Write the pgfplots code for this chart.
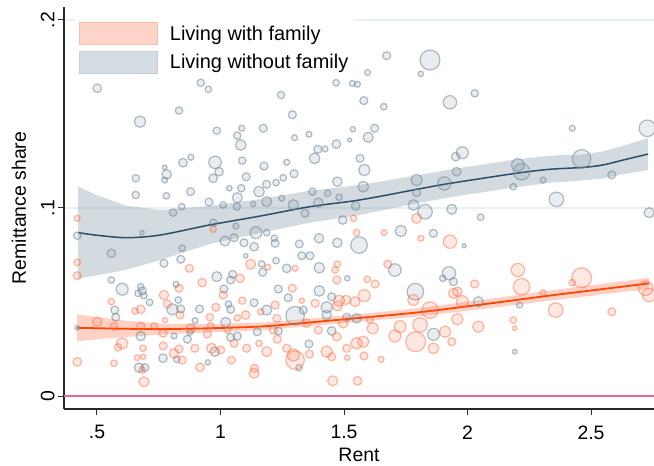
\documentclass[border=0pt]{standalone}
\usepackage{fontspec}
\setmainfont{Liberation Sans}
\usepackage{pgfplots}
\usepackage{pgfplotstable}
\pgfplotsset{compat=1.18}
\definecolor{gbase}{RGB}{110,135,152}
\definecolor{obase}{RGB}{255,100,60}
\definecolor{gline}{RGB}{46,77,102}
\definecolor{oline}{RGB}{255,69,0}
\definecolor{zline}{RGB}{218,108,142}
\definecolor{gridc}{RGB}{232,240,242}
\definecolor{gleg}{RGB}{213,222,228}
\definecolor{glegedge}{RGB}{196,207,215}
\definecolor{oleg}{RGB}{255,212,200}
\definecolor{olegedge}{RGB}{255,190,172}
\definecolor{axc}{RGB}{40,40,40}
\newcommand\tfont{\fontsize{19.5}{23}\selectfont}
\newcommand\lfont{\fontsize{20}{24}\selectfont}

\pgfplotstableread{
x y r
0.501 0.1637 4.3
0.674 0.1459 5.7
0.832 0.1518 3.7
0.920 0.1666 3.7
0.951 0.1631 3.3
0.985 0.1411 3.7
1.068 0.1385 3.7
1.086 0.1424 3.0
1.082 0.1335 5.3
0.978 0.1243 6.3
1.088 0.1252 3.7
0.848 0.1241 4.3
0.880 0.1270 3.0
0.774 0.1216 2.3
0.782 0.1179 4.7
0.774 0.1149 3.0
0.657 0.1158 3.7
0.657 0.1069 3.7
0.781 0.1065 3.3
0.879 0.1087 4.0
0.994 0.1193 4.3
0.970 0.1158 4.3
1.104 0.1166 4.0
1.084 0.1105 3.7
1.036 0.1105 2.7
1.068 0.1055 5.0
0.953 0.1032 4.0
1.011 0.1016 3.3
1.066 0.1007 3.7
1.132 0.1021 2.7
0.843 0.1007 3.3
0.808 0.0975 3.7
1.156 0.1087 5.3
0.971 0.0922 3.7
0.682 0.0869 2.3
0.420 0.0853 3.7
1.143 0.0869 6.0
1.062 0.0904 3.0
1.848 0.1787 10.0
1.673 0.1810 4.0
1.811 0.1713 2.7
1.596 0.1720 3.0
1.468 0.1666 3.3
1.534 0.1663 3.0
1.554 0.1658 3.0
1.245 0.1601 3.7
1.580 0.1571 4.0
1.661 0.1539 3.3
1.929 0.1562 6.7
1.291 0.1496 4.0
1.173 0.1424 4.0
1.300 0.1374 3.0
1.358 0.1392 3.0
1.536 0.1419 2.7
1.624 0.1424 4.0
1.598 0.1376 5.0
1.523 0.1362 2.0
1.469 0.1340 4.3
1.394 0.1312 4.0
1.423 0.1314 3.0
1.381 0.1264 5.3
1.268 0.1243 3.0
1.176 0.1223 4.0
1.565 0.1264 4.0
1.582 0.1202 5.7
1.298 0.1182 4.0
1.254 0.1161 3.3
1.225 0.1135 3.3
1.187 0.1126 4.0
1.473 0.1140 4.7
1.952 0.1273 4.3
1.794 0.1149 5.7
1.906 0.1131 6.7
1.956 0.1193 4.3
1.372 0.1087 3.7
1.434 0.1078 3.3
1.480 0.1057 3.3
1.578 0.1113 5.3
1.248 0.1052 3.0
1.295 0.1016 5.3
1.342 0.0972 4.0
1.396 0.1028 4.7
1.547 0.1011 4.3
1.187 0.1034 5.0
1.781 0.1016 5.3
1.828 0.0980 7.3
1.936 0.0993 5.0
1.495 0.0936 4.3
1.730 0.0878 5.7
1.187 0.0869 3.3
1.862 0.0865 4.0
1.218 0.0839 3.3
1.794 0.1081 4.0
2.029 0.1610 3.7
2.424 0.1424 3.0
2.728 0.1424 8.3
1.979 0.1294 6.0
2.204 0.1229 6.3
2.219 0.1193 8.3
2.462 0.1261 9.3
2.584 0.1176 4.0
2.306 0.1149 3.0
2.185 0.1113 3.3
2.360 0.1046 7.3
2.053 0.0951 3.3
2.735 0.0975 5.0
1.221 0.0812 4.0
1.399 0.0839 4.7
1.473 0.0815 4.7
1.561 0.0803 8.3
1.319 0.0809 4.0
1.329 0.0746 4.0
1.362 0.0746 4.0
1.225 0.0720 3.3
1.268 0.0679 4.3
1.400 0.0682 5.3
1.706 0.0670 6.3
1.171 0.0658 4.0
1.513 0.0626 2.7
1.925 0.0653 6.7
1.900 0.0626 3.3
1.943 0.0608 4.0
1.234 0.0569 4.0
1.400 0.0559 5.3
1.274 0.0523 4.0
1.450 0.0528 4.0
1.789 0.0555 8.3
1.187 0.0457 5.0
1.430 0.0472 5.7
1.302 0.0427 9.3
1.335 0.0457 4.0
1.430 0.0431 4.7
1.511 0.0419 4.0
1.551 0.0413 4.7
1.862 0.0328 6.0
1.234 0.0346 4.0
1.450 0.0346 4.3
1.358 0.0277 4.0
1.318 0.0151 3.3
1.986 0.0799 2.0
2.044 0.0502 5.0
2.211 0.0484 3.0
2.191 0.0236 2.3
0.558 0.0759 4.3
0.845 0.0786 3.3
0.771 0.0706 4.0
0.839 0.0727 4.0
1.018 0.0824 5.0
1.055 0.0842 4.0
1.095 0.0815 4.0
1.136 0.0794 4.3
1.102 0.0745 2.3
1.167 0.0702 3.3
0.558 0.0617 3.3
0.602 0.0568 6.0
0.677 0.0581 3.3
0.683 0.0559 4.0
0.666 0.0546 3.3
0.690 0.0534 3.3
0.713 0.0498 3.3
0.805 0.0461 5.7
0.820 0.0594 3.0
0.829 0.0511 3.3
0.839 0.0463 4.0
0.985 0.0635 5.0
1.049 0.0647 4.0
1.041 0.0617 4.0
1.014 0.0569 4.0
1.032 0.0489 3.3
1.041 0.0461 4.0
1.136 0.0496 4.0
0.572 0.0457 4.0
0.576 0.0419 4.0
0.915 0.0463 4.0
1.021 0.0392 5.0
0.420 0.0363 2.3
0.677 0.0319 4.7
0.812 0.0319 3.0
0.866 0.0302 4.0
0.876 0.0339 3.0
0.897 0.0401 3.0
1.041 0.0312 4.0
1.068 0.0319 4.0
0.977 0.0236 4.7
0.767 0.0201 4.3
0.823 0.0195 3.3
0.949 0.0179 2.7
0.670 0.0151 4.7
0.694 0.0151 4.0
1.149 0.0342 4.0
}\greypts

\pgfplotstableread{
x y r
0.420 0.0945 3.0
0.970 0.0887 3.3
0.420 0.0711 3.3
0.420 0.0640 4.0
0.420 0.0182 4.3
0.501 0.0395 4.7
0.558 0.0502 3.3
0.569 0.0369 4.0
0.569 0.0174 3.3
0.585 0.0259 3.7
0.602 0.0280 5.7
0.654 0.0452 3.3
0.677 0.0461 4.3
0.677 0.0372 4.0
0.686 0.0254 3.3
0.663 0.0204 3.0
0.687 0.0209 2.7
0.690 0.0076 5.0
0.683 0.0138 3.3
0.731 0.0372 3.3
0.771 0.0537 4.7
0.775 0.0404 2.7
0.768 0.0334 4.0
0.768 0.0266 4.0
0.785 0.0489 4.0
0.832 0.0573 4.0
0.836 0.0431 4.0
0.812 0.0227 4.7
0.832 0.0250 4.0
0.874 0.0679 4.0
0.879 0.0360 4.7
0.845 0.0191 4.0
0.896 0.0254 4.0
0.917 0.0153 4.3
0.926 0.0603 4.3
0.957 0.0419 3.7
0.981 0.0472 4.0
0.947 0.0330 4.0
0.964 0.0254 5.0
0.960 0.0374 3.3
1.011 0.0537 4.0
1.001 0.0245 4.0
1.044 0.0191 4.0
1.055 0.0280 4.0
1.079 0.0626 4.3
1.088 0.0507 3.7
1.102 0.0431 4.3
1.106 0.0254 4.0
1.122 0.0701 5.0
1.138 0.0147 4.0
1.136 0.0121 5.0
1.156 0.0280 3.3
1.163 0.0448 3.3
1.068 0.0416 3.3
1.028 0.0351 3.3
1.454 0.0081 5.0
1.555 0.0081 4.3
1.551 0.0869 3.3
1.662 0.0869 3.0
1.811 0.0839 3.0
1.929 0.0821 6.7
1.677 0.0701 4.0
1.473 0.0701 3.3
1.464 0.0670 3.3
1.471 0.0617 4.0
1.191 0.0685 3.0
1.302 0.0679 3.0
1.291 0.0573 4.0
1.594 0.0621 3.3
1.626 0.0596 4.0
1.221 0.0484 4.0
1.329 0.0507 2.7
1.383 0.0493 4.0
1.480 0.0507 5.7
1.508 0.0511 4.7
1.473 0.0479 5.0
1.545 0.0502 5.0
1.582 0.0534 6.0
1.781 0.0511 5.7
1.848 0.0457 8.3
1.943 0.0546 5.0
1.228 0.0413 4.0
1.349 0.0387 4.3
1.396 0.0351 4.0
1.471 0.0315 4.3
1.497 0.0387 4.7
1.605 0.0404 3.3
1.616 0.0360 5.7
1.727 0.0369 6.0
1.706 0.0319 6.0
1.808 0.0378 7.3
1.790 0.0289 10.0
1.909 0.0342 5.7
1.936 0.0289 4.0
1.862 0.0254 5.3
1.187 0.0236 5.0
1.268 0.0254 4.0
1.295 0.0218 6.0
1.302 0.0191 9.3
1.360 0.0223 4.0
1.430 0.0236 5.7
1.450 0.0209 4.0
1.511 0.0254 4.0
1.551 0.0280 5.7
1.578 0.0289 5.7
1.581 0.0213 4.0
1.513 0.0204 2.7
1.650 0.0195 3.0
1.230 0.0302 4.0
1.214 0.0351 4.0
2.204 0.0670 6.7
2.219 0.0581 8.3
2.462 0.0629 10.0
2.424 0.0603 3.3
2.306 0.0549 3.0
2.357 0.0457 7.3
2.584 0.0448 4.0
2.721 0.0573 7.3
2.735 0.0537 6.7
2.029 0.0596 4.0
1.979 0.0502 6.0
1.959 0.0555 4.7
1.959 0.0408 5.7
2.044 0.0369 5.7
2.185 0.0404 3.3
2.191 0.0360 2.3
1.538 0.0945 3.3
1.794 0.0945 5.0
}\orangepts

\begin{document}
\begin{tikzpicture}
\begin{axis}[
  scale only axis, width=590bp, height=402bp,
  xmin=0.3664, xmax=2.755, ymin=-0.0069, ymax=0.2069,
  axis x line*=bottom, axis y line*=left,
  axis line style={draw=axc, line width=1.1bp, -},
  xtick={0.5,1,1.5,2,2.5}, xticklabels={.5,1,1.5,2,2.5},
  ytick={0,0.1,0.2}, yticklabels={0,.1,.2},
  minor tick num=0,
  tick align=outside, major tick length=6bp,
  tick style={draw=axc, line width=1bp},
  ymajorgrids, grid style={draw=gridc, line width=1.2bp},
  tick label style={font=\tfont},
  yticklabel style={rotate=90, anchor=south},
  xticklabel style={yshift=-7bp},
  label style={font=\tfont},
  xlabel={Rent}, ylabel={Remittance share},
  xlabel style={at={(axis description cs:0.5,-0.1144)}, anchor=center},
  ylabel style={at={(axis description cs:-0.0763,0.5)}, anchor=center},
  clip=true,
  legend style={at={(axis description cs:0.0186,0.9726)}, anchor=north west,
    draw=none, fill=white, inner xsep=4bp, inner ysep=4bp,
    font=\lfont, row sep=6bp, nodes={inner sep=1bp, anchor=west},
    /tikz/every odd column/.append style={column sep=11bp}},
  legend cell align=left,
]
\coordinate (BL) at (rel axis cs:0,0);
\coordinate (TR) at (rel axis cs:1,1);

\addplot[forget plot, scatter, only marks, mark=*,
  point meta=explicit,
  scatter/use mapped color={draw=gbase, fill=gbase},
  visualization depends on={\thisrow{r} \as \rad},
  scatter/@pre marker code/.append style={/tikz/mark size=\rad},
  mark options={line width=1.2bp, draw opacity=0.55, fill opacity=0.15}]
  table[x=x, y=y, meta=r] {\greypts};

\addplot[forget plot, scatter, only marks, mark=*,
  point meta=explicit,
  scatter/use mapped color={draw=obase, fill=obase},
  visualization depends on={\thisrow{r} \as \rad},
  scatter/@pre marker code/.append style={/tikz/mark size=\rad},
  mark options={line width=1.2bp, draw opacity=0.45, fill opacity=0.15}]
  table[x=x, y=y, meta=r] {\orangepts};

\addplot[forget plot, draw=zline, line width=1.6bp] coordinates {(0.3664,0) (2.755,0)};

% orange CI band
\addplot[draw=none, fill=obase, fill opacity=0.3,
  legend image code/.code={\draw[fill=oleg, draw=olegedge, fill opacity=1, draw opacity=1, line width=0.8bp] (0bp,-11bp) rectangle (78bp,11bp);}]
  coordinates {
  (0.42,0.0434) (0.6,0.0403) (0.77,0.0384) (1.0,0.0384) (1.2,0.0393) (1.5,0.0428) (1.8,0.0467) (2.1,0.0519) (2.35,0.0564) (2.735,0.0629)
  (2.735,0.0569) (2.35,0.0510) (2.1,0.0469) (1.8,0.0423) (1.5,0.0388) (1.2,0.0353) (1.0,0.0340) (0.77,0.0328) (0.6,0.0313) (0.42,0.0292)
  };
\addlegendentry{Living with family}

% grey CI band
\addplot[draw=none, fill=gbase, fill opacity=0.3,
  legend image code/.code={\draw[fill=gleg, draw=glegedge, fill opacity=1, draw opacity=1, line width=0.8bp] (0bp,-11bp) rectangle (78bp,11bp);}]
  coordinates {
  (0.424,0.1114) (0.50,0.1068) (0.62,0.1012) (0.755,0.0989) (0.957,0.1011) (1.160,0.1047) (1.362,0.1092) (1.565,0.1123) (1.794,0.1173) (1.929,0.1205) (2.199,0.1259) (2.334,0.1278) (2.469,0.1285) (2.549,0.1301) (2.630,0.1331) (2.731,0.1372)
  (2.731,0.1202) (2.630,0.1179) (2.549,0.1157) (2.469,0.1147) (2.334,0.1134) (2.199,0.1111) (1.929,0.1057) (1.794,0.1025) (1.565,0.0963) (1.362,0.0922) (1.160,0.0867) (0.957,0.0809) (0.755,0.0723) (0.62,0.0672) (0.50,0.0642) (0.424,0.0624)
  };
\addlegendentry{Living without family}

\addplot[forget plot, draw=gline, line width=1.5bp, smooth] coordinates {
  (0.424,0.0869) (0.50,0.0855) (0.62,0.0842) (0.755,0.0856) (0.957,0.0910) (1.160,0.0957) (1.362,0.1007) (1.565,0.1043) (1.794,0.1099) (1.929,0.1131) (2.199,0.1185) (2.334,0.1206) (2.469,0.1216) (2.549,0.1229) (2.630,0.1255) (2.731,0.1287)
};
\addplot[forget plot, draw=oline, line width=1.8bp, smooth] coordinates {
  (0.42,0.0363) (0.6,0.0358) (0.77,0.0356) (1.0,0.0362) (1.2,0.0373) (1.5,0.0408) (1.8,0.0445) (2.1,0.0494) (2.35,0.0537) (2.735,0.0599)
};
\end{axis}
\pgfresetboundingbox
\path[use as bounding box] ([shift={(-64bp,-57bp)}]BL) rectangle ([shift={(0bp,7bp)}]TR);
\end{tikzpicture}
\end{document}
